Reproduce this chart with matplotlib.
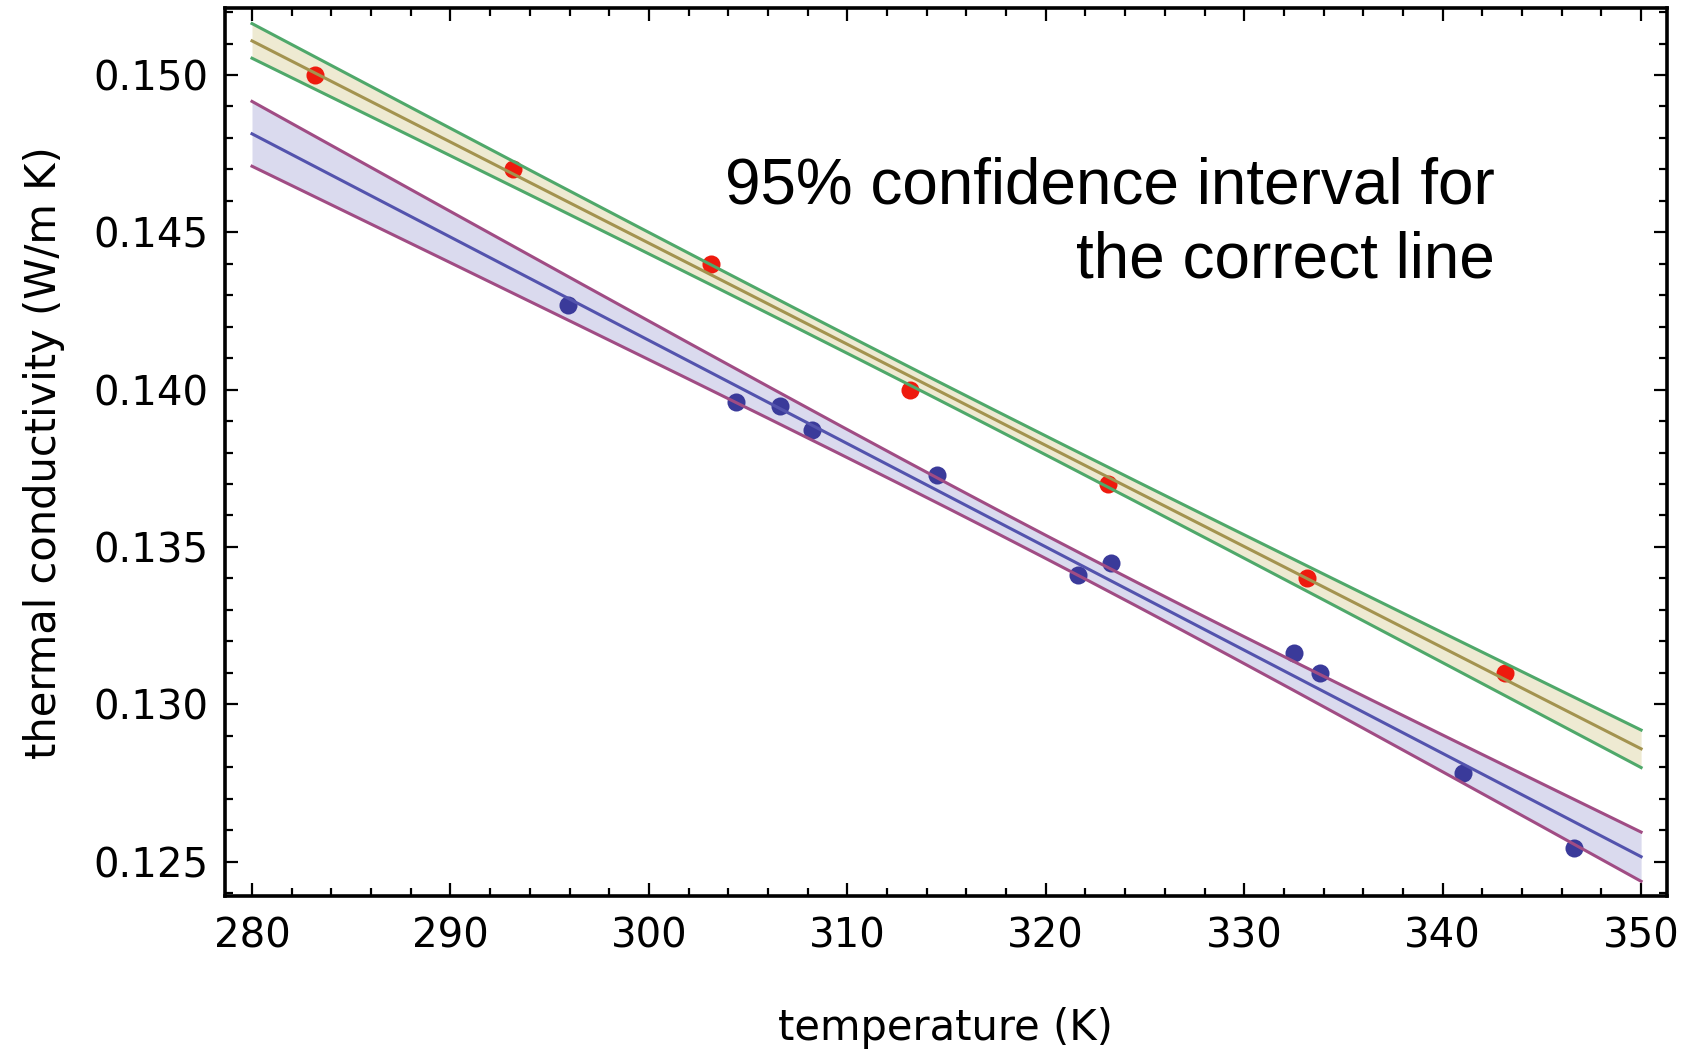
"""Thermal conductivity vs temperature with 95% confidence bands."""
import numpy as np
import matplotlib
matplotlib.use("Agg")
import matplotlib.pyplot as plt
from matplotlib.ticker import MultipleLocator, FormatStrFormatter

# "correct" (reference) values
T_ref = [283.15, 293.15, 303.15, 313.15, 323.15, 333.15, 343.15]
k_ref = [0.1500, 0.1470, 0.1440, 0.1400, 0.1370, 0.1340, 0.1310]

# measured values
T_meas = [295.9, 304.4, 306.6, 308.2, 314.5, 321.6, 323.3, 332.5, 333.8, 341.0, 346.6]
k_meas = [0.14269, 0.13962, 0.13949, 0.13872, 0.13729, 0.13411, 0.13448,
          0.13162, 0.13100, 0.12782, 0.12542]

# two-sided 95% Student t values for n-2 degrees of freedom
t_ref = 2.571   # 5 dof
t_meas = 2.262  # 9 dof

fit_from, fit_to = 280, 350
x_ticks = [280, 290, 300, 310, 320, 330, 340, 350]
y_ticks = [0.125, 0.130, 0.135, 0.140, 0.145, 0.150]


def conf_band(x, y, t_crit, xs):
    x = np.asarray(x)
    y = np.asarray(y)
    slope, icpt = np.polyfit(x, y, 1)
    resid = y - (slope * x + icpt)
    n = len(x)
    s = np.sqrt(np.sum(resid ** 2) / (n - 2))
    sxx = np.sum((x - x.mean()) ** 2)
    hw = t_crit * s * np.sqrt(1.0 / n + (xs - x.mean()) ** 2 / sxx)
    fit = slope * xs + icpt
    return fit, fit - hw, fit + hw


def main():
    xs = np.linspace(fit_from, fit_to, 300)
    ref_fit, ref_lo, ref_hi = conf_band(T_ref, k_ref, t_ref, xs)
    mea_fit, mea_lo, mea_hi = conf_band(T_meas, k_meas, t_meas, xs)

    fig = plt.figure(figsize=(16.83, 10.5), dpi=100)
    ax = fig.add_axes([0.1337, 0.1462, 0.8565, 0.8462])

    # bands
    ax.fill_between(xs, ref_lo, ref_hi, color="#eeead2", lw=0, zorder=1)
    ax.fill_between(xs, mea_lo, mea_hi, color="#dadaee", lw=0, zorder=1)

    # points
    ax.plot(T_ref, k_ref, "o", color="#ee1a0e", ms=13, mew=0, zorder=2)
    ax.plot(T_meas, k_meas, "o", color="#3a3a9a", ms=13, mew=0, zorder=2)

    # fit lines and band edges
    ax.plot(xs, ref_lo, color="#4fa86a", lw=2.2, zorder=3)
    ax.plot(xs, ref_hi, color="#4fa86a", lw=2.2, zorder=3)
    ax.plot(xs, ref_fit, color="#a3934f", lw=2.2, zorder=3)
    ax.plot(xs, mea_lo, color="#a04c84", lw=2.2, zorder=3)
    ax.plot(xs, mea_hi, color="#a04c84", lw=2.2, zorder=3)
    ax.plot(xs, mea_fit, color="#5353ad", lw=2.2, zorder=3)

    ax.set_xlim(278.64, 351.28)
    ax.set_ylim(0.12389, 0.15213)
    ax.set_xticks(x_ticks)
    ax.set_yticks(y_ticks)
    ax.xaxis.set_minor_locator(MultipleLocator(2))
    ax.yaxis.set_minor_locator(MultipleLocator(0.001))
    ax.yaxis.set_major_formatter(FormatStrFormatter("%.3f"))

    for sp in ax.spines.values():
        sp.set_linewidth(2.6)
    ax.tick_params(which="both", direction="in", top=True, right=True,
                   width=1.6, colors="black", labelsize=29)
    ax.tick_params(which="major", length=9.5)
    ax.tick_params(which="minor", length=5.5)
    ax.tick_params(axis="x", pad=14.5)
    ax.tick_params(axis="y", pad=12)

    ax.set_xlabel("temperature (K)", fontsize=30, labelpad=36)
    ax.set_ylabel("thermal conductivity (W/m K)", fontsize=30, labelpad=20)

    ax.text(342.63, 0.14740, "95% confidence interval for\nthe correct line",
            ha="right", va="top", fontsize=46, family="Liberation Sans",
            multialignment="right", linespacing=1.3, zorder=4)

    fig.savefig("out.png", dpi=100)


if __name__ == "__main__":
    main()
